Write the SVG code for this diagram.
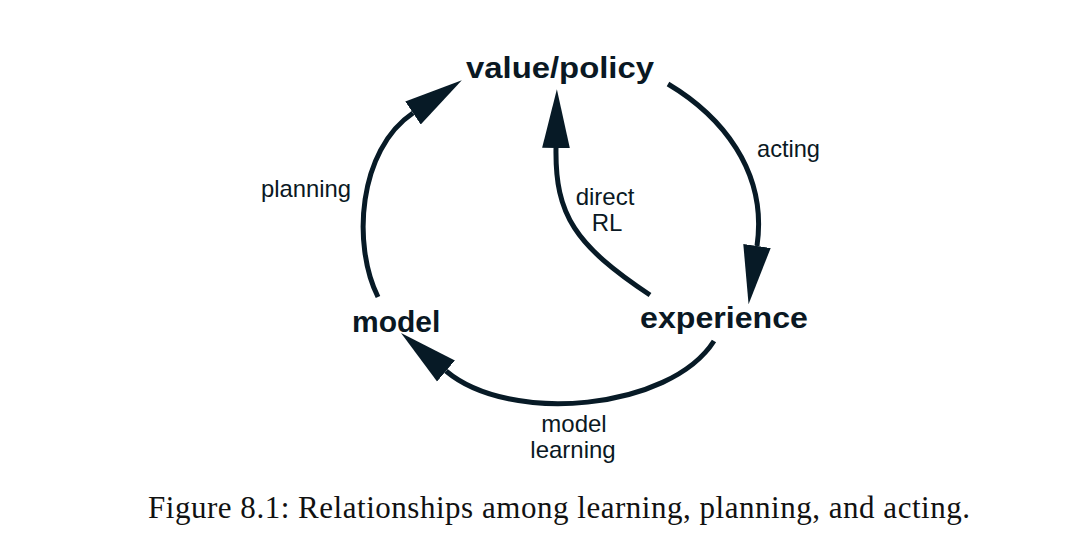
<svg xmlns="http://www.w3.org/2000/svg" width="1071" height="556" viewBox="0 0 1071 556">
<style>
.node{font-family:"Liberation Sans",Arial,Helvetica,sans-serif;font-weight:bold;font-size:30px;fill:#0a1823}
.lbl{font-family:"Liberation Sans",Arial,Helvetica,sans-serif;font-size:24px;fill:#0a1823}
.cap{font-family:"Liberation Serif","Times New Roman",serif;font-size:31px;fill:#111}
.edge{fill:none;stroke:#071a26;stroke-width:5}
</style>
<defs>
<marker id="ah" markerUnits="userSpaceOnUse" markerWidth="60" markerHeight="30" refX="0" refY="12" orient="auto" viewBox="0 0 52 24">
<path d="M0,0 L51,12 L0,24 z" fill="#071a26"/>
</marker>
</defs>
<rect width="1071" height="556" fill="#fff"/>
<g id="connectors">
<path class="edge" d="M378,297 C352,245 358,150 413,113" marker-end="url(#ah)"/>
<path class="edge" d="M668,84 C720,115 768,170 757,246" marker-end="url(#ah)"/>
<path class="edge" d="M714,341 C670,410 510,425 446,371" marker-end="url(#ah)"/>
<path class="edge" d="M650,295 C575,245 555,215 556,148" marker-end="url(#ah)"/>
</g>
<g id="value-policy"><text class="node" x="466" y="78" textLength="188" lengthAdjust="spacingAndGlyphs">value/policy</text></g>
<g id="model"><text class="node" x="352" y="332">model</text></g>
<g id="experience"><text class="node" x="640" y="328" textLength="168" lengthAdjust="spacingAndGlyphs">experience</text></g>
<g id="labels">
<text class="lbl" x="261" y="197" textLength="90" lengthAdjust="spacingAndGlyphs">planning</text>
<text class="lbl" x="757" y="157" textLength="63" lengthAdjust="spacingAndGlyphs">acting</text>
<text class="lbl" x="605" y="205" text-anchor="middle">direct</text>
<text class="lbl" x="607" y="231" text-anchor="middle">RL</text>
<text class="lbl" x="574" y="432" text-anchor="middle">model</text>
<text class="lbl" x="573" y="458" text-anchor="middle">learning</text>
</g>
<text class="cap" x="148" y="518" textLength="822" lengthAdjust="spacing">Figure 8.1: Relationships among learning, planning, and acting.</text>
</svg>
